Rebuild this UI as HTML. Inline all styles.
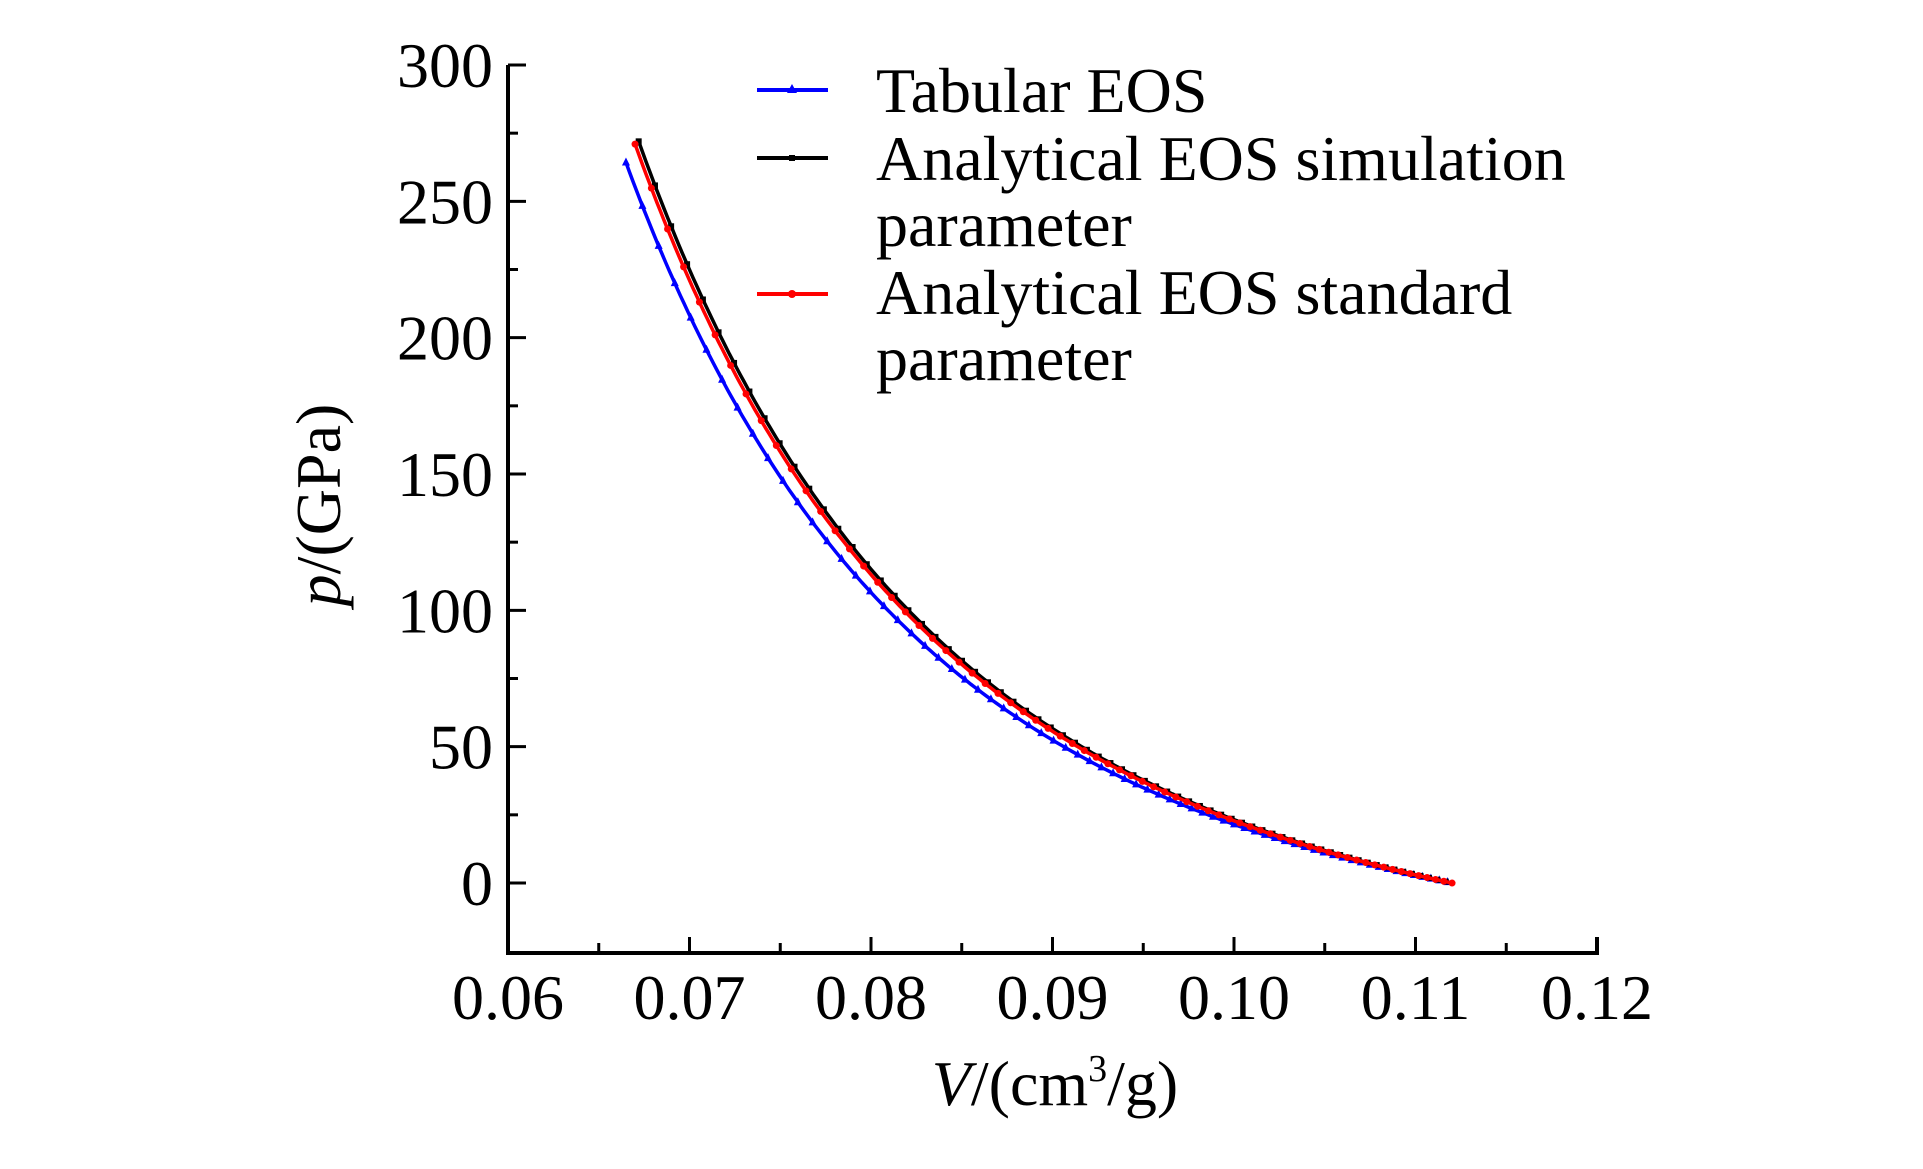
<!DOCTYPE html>
<html><head><meta charset="utf-8"><style>
html,body{margin:0;padding:0;background:#fff;}
svg{display:block;}
text{font-family:"Liberation Serif",serif;fill:#000;}
</style></head><body>
<svg id="s" width="1923" height="1169" xmlns="http://www.w3.org/2000/svg">
<g id="axes" stroke="#000" stroke-width="4" fill="none">
<path d="M508,65 V953 H1597 V937"/>
</g>
<g id="ticks" stroke="#000" stroke-width="3"></g>
<g id="curves"></g>
<g font-size="64" text-anchor="end" id="yl"></g>
<g font-size="64" text-anchor="middle" id="xl"></g>
<text x="1055" y="1105" font-size="64" text-anchor="middle"><tspan font-style="italic">V</tspan>/(cm<tspan font-size="38" dy="-24">3</tspan><tspan dy="24">/g)</tspan></text>
<text transform="translate(340,505) rotate(-90)" font-size="64" text-anchor="middle"><tspan font-style="italic">p</tspan>/(GPa)</text>
<g font-size="64">
<line x1="757" y1="90" x2="828" y2="90" stroke="#0000ff" stroke-width="4"/>
<path d="M792,84 l-5,9 h10 z" fill="#0000ff"/>
<text x="876" y="112">Tabular EOS</text>
<line x1="757" y1="158" x2="828" y2="158" stroke="#000" stroke-width="4"/>
<rect x="789" y="155" width="6" height="6" fill="#000"/>
<text x="876" y="180">Analytical EOS simulation</text>
<text x="876" y="246">parameter</text>
<line x1="757" y1="294" x2="828" y2="294" stroke="#ff0000" stroke-width="4"/>
<circle cx="792" cy="294" r="4" fill="#ff0000"/>
<text x="876" y="314">Analytical EOS standard</text>
<text x="876" y="380">parameter</text>
</g>
</svg>
<script>
var X=v=>508+(v-0.06)/0.06*1089, Y=p=>883-p/300*818;
var NS="http://www.w3.org/2000/svg";
function el(par,tag,at){var e=document.createElementNS(NS,tag);for(var k in at)e.setAttribute(k,at[k]);document.getElementById(par).appendChild(e);return e;}
for(var p=0;p<=300;p+=25){var y=Y(p);el("ticks","line",{x1:508,x2:p%50?518:526,y1:y,y2:y});
 if(p%50==0){var t=el("yl","text",{x:493,y:y+22});t.textContent=p;}}
var labs=["0.06","0.07","0.08","0.09","0.10","0.11","0.12"];
for(var i=0;i<=12;i++){var v=0.06+i*0.005,x=X(v);el("ticks","line",{x1:x,x2:x,y1:953,y2:i%2?943:937});
 if(i%2==0){var t=el("xl","text",{x:x,y:1019});t.textContent=labs[i/2];}}
function curve(K,v0,col,mk){
 var f=v=>K*(Math.pow(0.112/v,4)-1),d="",pts=[];
 for(var v=v0;v<=0.1121;v+=0.0002){d+=(d?"L":"M")+X(v).toFixed(1)+","+Y(f(v)).toFixed(1);}
 el("curves","path",{d:d,stroke:col,"stroke-width":3.5,fill:"none"});
 var v=v0;while(v<=0.1121){pts.push(v);v+=0.00045+0.00045*(0.112-v)/0.045;}
 pts.forEach(v=>{var x=X(v),y=Y(f(v));
  if(mk=="t")el("curves","path",{d:"M"+x+","+(y-5)+"l-4,8h8z",fill:col});
  else if(mk=="s")el("curves","rect",{x:x-3,y:y-3,width:6,height:6,fill:col});
  else el("curves","circle",{cx:x,cy:y,r:3.5,fill:col});});
}
curve(37.5,0.0665,"#0000ff","t");
curve(40.5,0.0672,"#000000","s");
curve(39.8,0.0670,"#ff0000","c");
</script>
</body></html>
